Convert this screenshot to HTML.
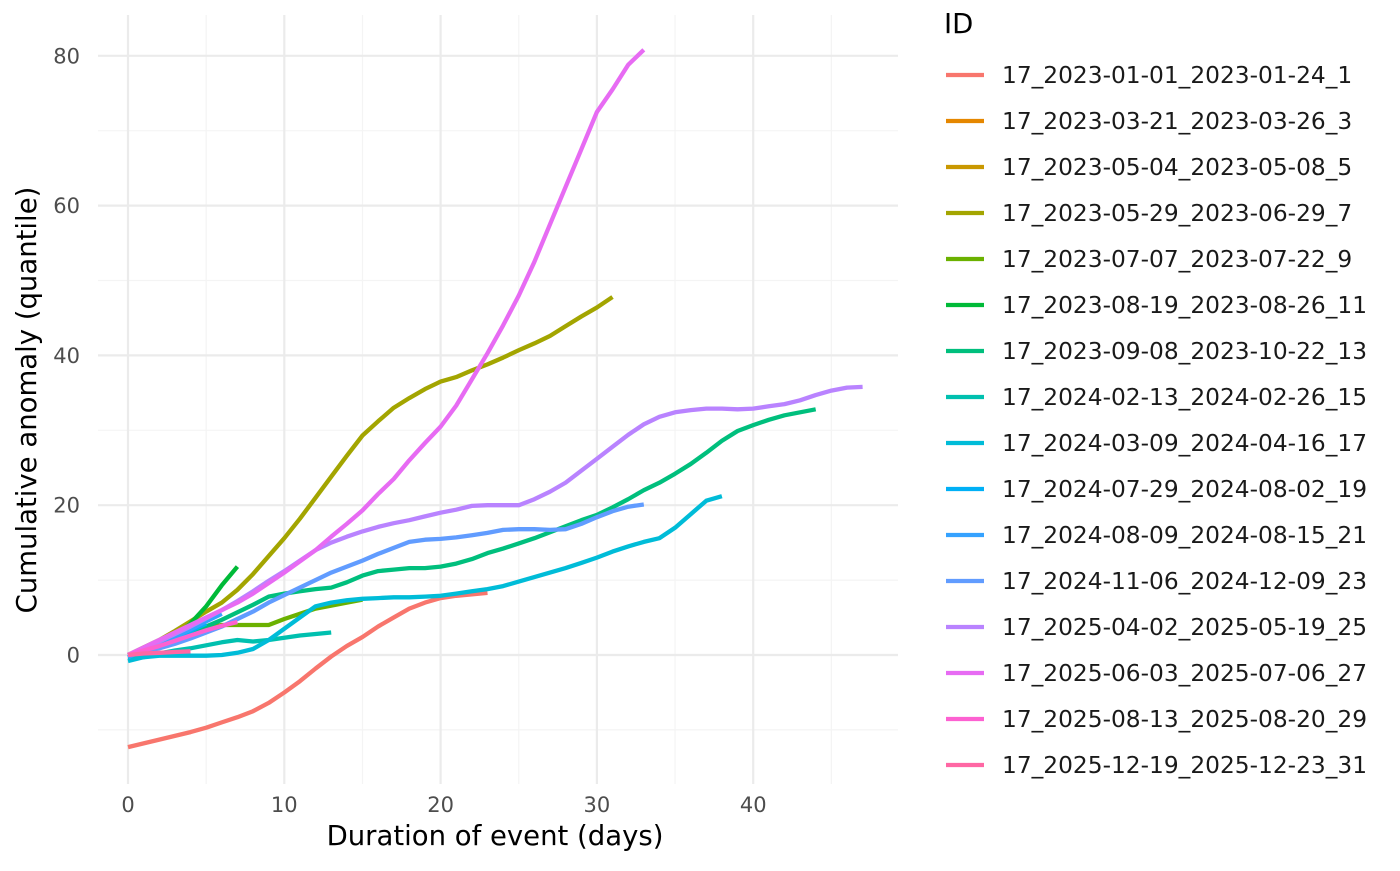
<!DOCTYPE html>
<html><head><meta charset="utf-8"><style>
body{margin:0;background:#fff;font-family:"Liberation Sans","DejaVu Sans",sans-serif}
svg text{font-family:"DejaVu Sans","Liberation Sans",sans-serif}
</style></head><body>
<svg id="chart" width="1400" height="866" xmlns="http://www.w3.org/2000/svg">
<g id="grid"></g>
<g id="series"></g>
<g id="axes"></g>
<g id="legend"></g>
</svg>
<script>
const ids=["17_2023-01-01_2023-01-24_1","17_2023-03-21_2023-03-26_3","17_2023-05-04_2023-05-08_5","17_2023-05-29_2023-06-29_7","17_2023-07-07_2023-07-22_9","17_2023-08-19_2023-08-26_11","17_2023-09-08_2023-10-22_13","17_2024-02-13_2024-02-26_15","17_2024-03-09_2024-04-16_17","17_2024-07-29_2024-08-02_19","17_2024-08-09_2024-08-15_21","17_2024-11-06_2024-12-09_23","17_2025-04-02_2025-05-19_25","17_2025-06-03_2025-07-06_27","17_2025-08-13_2025-08-20_29","17_2025-12-19_2025-12-23_31"];
const colors=["#F8766D","#E58700","#C99800","#A3A500","#6BB100","#00BA38","#00BF7D","#00C0AF","#00BCD8","#00B0F6","#35A2FF","#619CFF","#B983FF","#E76BF3","#FD61D1","#FF67A4"];
const s1=[-12.3,-11.8,-11.3,-10.8,-10.3,-9.7,-9.0,-8.3,-7.5,-6.4,-5.0,-3.5,-1.8,-0.2,1.2,2.4,3.8,5.0,6.2,7.0,7.6,7.9,8.1,8.3];
const s2=[0,0.5,1.2,2,2.8,3.5];
const s3=[0,0.8,1.8,3.0,4.2];
const s4=[0,1,2,3.2,4.5,5.8,7,8.7,10.8,13.2,15.6,18.2,21,23.8,26.6,29.3,31.2,33,34.3,35.5,36.5,37.1,38,38.8,39.7,40.7,41.6,42.6,43.9,45.2,46.4,47.8];
const s5=[0,0.7,1.4,2.2,3,3.6,4,4,4,4,4.8,5.5,6.2,6.6,7,7.4];
const s6=[0,0.5,1.3,2.5,4.2,6.5,9.3,11.8];
const s7=[0,0.7,1.5,2.3,3,3.8,4.7,5.7,6.7,7.8,8.2,8.5,8.8,9,9.7,10.6,11.2,11.4,11.6,11.6,11.8,12.2,12.8,13.6,14.2,14.9,15.6,16.4,17.2,18,18.7,19.7,20.8,22,23,24.2,25.5,27,28.6,29.9,30.7,31.4,32,32.4,32.8];
const s8=[-0.5,-0.3,0.2,0.6,0.9,1.3,1.7,2,1.8,2,2.3,2.6,2.8,3];
const s9=[-0.8,-0.3,-0.1,-0.1,-0.1,-0.1,0,0.3,0.8,2,3.5,5,6.5,7,7.3,7.5,7.6,7.7,7.7,7.8,7.9,8.2,8.5,8.8,9.2,9.8,10.4,11,11.6,12.3,13,13.8,14.5,15.1,15.6,17,18.8,20.6,21.2];
const s10=[0,0.7,1.5,2.3,3.2,4.2];
const s11=[-0.3,0.6,1.5,2.4,3.4,4.5,5.5];
const s12=[0,0.4,0.9,1.5,2.2,3,3.8,4.8,5.8,7,8,9,10,11,11.8,12.6,13.5,14.3,15.1,15.4,15.5,15.7,16,16.3,16.7,16.8,16.8,16.7,16.8,17.5,18.4,19.2,19.8,20.1];
const s13=[0,0.8,1.8,2.8,3.8,4.9,6,7.2,8.5,9.9,11.2,12.6,14,15,15.8,16.5,17.1,17.6,18,18.5,19,19.4,19.9,20,20,20,20.8,21.8,23,24.6,26.2,27.8,29.4,30.8,31.8,32.4,32.7,32.9,32.9,32.8,32.9,33.2,33.5,34,34.7,35.3,35.7,35.8];
const s14=[0,1,2,3,4,5,6,7,8.2,9.6,11,12.5,14,15.8,17.5,19.3,21.5,23.5,26,28.3,30.5,33.3,36.8,40.3,44,48,52.5,57.5,62.5,67.5,72.5,75.5,78.8,80.8];
const s15=[0,0.6,1.2,1.9,2.6,3.3,3.9,4.4];
const s16=[0,0.2,0.3,0.4,0.5];
const seriesList=[s1,s2,s3,s4,s5,s6,s7,s8,s9,s10,s11,s12,s13,s14,s15,s16];
const xTicks=[0,10,20,30,40];
const yTicks=[0,20,40,60,80];
const xMinor=[5,15,25,35,45];
const yMinor=[-10,10,30,50,70];

const NS="http://www.w3.org/2000/svg";
const PL=98,PR=898,PT=15,PB=784;
const xs=v=>128+v*15.63;
const ys=v=>655-v*7.49;
function mk(tag,attrs,parent,txt){const e=document.createElementNS(NS,tag);for(const k in attrs)e.setAttribute(k,attrs[k]);if(txt!==undefined)e.textContent=txt;parent.appendChild(e);return e;}
const grid=document.getElementById('grid'),ser=document.getElementById('series'),axes=document.getElementById('axes'),leg=document.getElementById('legend');
yMinor.forEach(v=>{const l=mk('line',{x1:PL,x2:PR,y1:ys(v),y2:ys(v),stroke:'#f4f4f4','stroke-width':1.2},grid);

});
xMinor.forEach(v=>{const l=mk('line',{x1:xs(v),x2:xs(v),y1:PT,y2:PB,stroke:'#f4f4f4','stroke-width':1.2},grid);

});
yTicks.forEach(v=>{const l=mk('line',{x1:PL,x2:PR,y1:ys(v),y2:ys(v),stroke:'#ebebeb','stroke-width':2.2},grid);


const t=mk('text',{x:80,y:ys(v)+7.5,'text-anchor':'end','font-size':21,fill:'#4d4d4d'},axes,String(v));

});
xTicks.forEach(v=>{const l=mk('line',{x1:xs(v),x2:xs(v),y1:PT,y2:PB,stroke:'#ebebeb','stroke-width':2.2},grid);


const t=mk('text',{x:xs(v),y:812,'text-anchor':'middle','font-size':21,fill:'#4d4d4d'},axes,String(v));

});
const xt=mk('text',{x:495,y:845,'text-anchor':'middle','font-size':27.5,fill:'#000'},axes,'Duration of event (days)');


const yt=mk('text',{x:0,y:0,'text-anchor':'middle','font-size':27.5,fill:'#000',transform:'translate(36,400) rotate(-90)'},axes,'Cumulative anomaly (quantile)');


seriesList.forEach((s,i)=>{const pts=s.map((v,d)=>xs(d).toFixed(1)+','+ys(v).toFixed(1)).join(' ');
const p=mk('polyline',{points:pts,fill:'none',stroke:colors[i],'stroke-width':4.3,'stroke-linejoin':'round','stroke-linecap':'butt'},ser);

});
const lt=mk('text',{x:944,y:33,'font-size':27.5,fill:'#000'},leg,'ID');


ids.forEach((id,i)=>{const y=75+i*46;
const g=mk('g',{},leg);


mk('line',{x1:946,x2:984,y1:y,y2:y,stroke:colors[i],'stroke-width':4.3},g);
mk('text',{x:1002,y:y+8,'font-size':23.3,fill:'#1a1a1a'},g,id);});
</script>
</body></html>
